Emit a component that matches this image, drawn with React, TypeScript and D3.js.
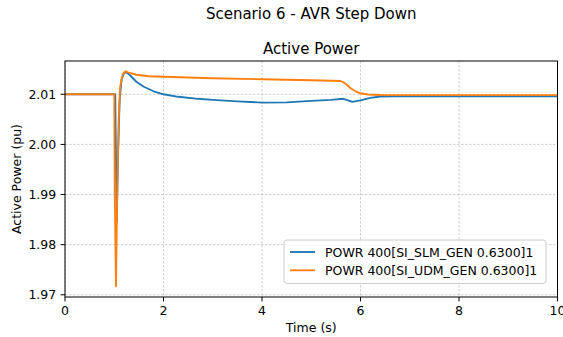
import React from "react";
import * as d3 from "d3";

const W = 563;
const H = 337;

const suptitle = "Scenario 6 - AVR Step Down";
const axTitle = "Active Power";
const xLabel = "Time (s)";
const yLabel = "Active Power (pu)";
const xTicks = [0, 2, 4, 6, 8, 10];
const yTicks = [1.97, 1.98, 1.99, 2.0, 2.01];
const seriesNames = ["POWR 400[SI_SLM_GEN 0.6300]1", "POWR 400[SI_UDM_GEN 0.6300]1"];
const colors = ["#1f77b4", "#ff7f0e"];

const slmT = [0, 1.0, 1.02, 1.05, 1.08, 1.11, 1.15, 1.2, 1.25, 1.32, 1.45, 1.6, 1.8, 2.0, 2.3, 2.7, 3.0, 3.5, 4.0, 4.5, 5.0, 5.4, 5.65, 5.75, 5.83, 6.0, 6.2, 6.4, 6.7, 10];
const slmV = [2.01, 2.01, 2.01, 1.9845, 1.999, 2.009, 2.013, 2.0143, 2.0144, 2.0138, 2.0125, 2.0115, 2.0106, 2.01, 2.0095, 2.0091, 2.0089, 2.0086, 2.00835, 2.0084, 2.0087, 2.0089, 2.0091, 2.0088, 2.00848, 2.0088, 2.0093, 2.00955, 2.0096, 2.0096];

const udmT = [0, 1.0, 1.01, 1.035, 1.06, 1.09, 1.12, 1.17, 1.23, 1.3, 1.45, 1.7, 2.0, 3.0, 4.0, 5.0, 5.6, 5.7, 5.8, 5.9, 6.0, 6.15, 6.4, 10];
const udmV = [2.01, 2.01, 1.99, 1.9717, 1.99, 2.005, 2.0115, 2.014, 2.0146, 2.0143, 2.0139, 2.0136, 2.0135, 2.0132, 2.013, 2.0128, 2.01265, 2.0121, 2.0112, 2.0106, 2.0102, 2.00995, 2.00985, 2.00983];

const margin = { left: 65, right: 5.5, top: 61, bottom: 40 };

export default function App() {
  const x = d3.scaleLinear().domain([0, 10]).range([margin.left, W - margin.right]);
  const y = d3.scaleLinear().domain([1.96956, 2.01664]).range([H - margin.bottom, margin.top]);
  const line = d3
    .line<[number, number]>()
    .x((d) => x(d[0]))
    .y((d) => y(d[1]));
  const series = [
    slmT.map((t, i) => [t, slmV[i]] as [number, number]),
    udmT.map((t, i) => [t, udmV[i]] as [number, number]),
  ];
  const x0 = x(0), x1 = x(10), y0 = y.range()[0], y1 = y.range()[1];
  const cx = (x0 + x1) / 2;
  const font = "DejaVu Sans, sans-serif";
  const lg = { x: 284, y: 240, w: 262, h: 43.5 };
  return (
    <svg width={W} height={H} style={{ position: "absolute", left: 0, top: 0 }} fontFamily={font}>
      <rect x={0} y={0} width={W} height={H} fill="#fff" />
      <text x={cx} y={19} textAnchor="middle" fontSize={15} fill="#000">{suptitle}</text>
      <text x={cx} y={53.5} textAnchor="middle" fontSize={15} fill="#000">{axTitle}</text>
      <defs>
        <clipPath id="clip">
          <rect x={x0} y={y1} width={x1 - x0} height={y0 - y1} />
        </clipPath>
      </defs>
      {xTicks.map((t) => (
        <line key={"gx" + t} x1={x(t)} x2={x(t)} y1={y1} y2={y0} stroke="#b0b0b0" strokeWidth={0.6} strokeDasharray="2.5,1.5" />
      ))}
      {yTicks.map((t) => (
        <line key={"gy" + t} x1={x0} x2={x1} y1={y(t)} y2={y(t)} stroke="#b0b0b0" strokeWidth={0.6} strokeDasharray="2.5,1.5" />
      ))}
      <g clipPath="url(#clip)">
        {series.map((s, i) => (
          <path key={i} d={line(s) || ""} fill="none" stroke={colors[i]} strokeWidth={1.85} strokeLinejoin="round" />
        ))}
      </g>
      <rect x={x0} y={y1} width={x1 - x0} height={y0 - y1} fill="none" stroke="#000" strokeWidth={1} />
      {xTicks.map((t) => (
        <g key={"xt" + t}>
          <line x1={x(t)} x2={x(t)} y1={y0} y2={y0 + 4.4} stroke="#000" strokeWidth={1} />
          <text x={x(t)} y={y0 + 18} textAnchor="middle" fontSize={12.5} fill="#000">{t}</text>
        </g>
      ))}
      {yTicks.map((t) => (
        <g key={"yt" + t}>
          <line x1={x0 - 4.4} x2={x0} y1={y(t)} y2={y(t)} stroke="#000" strokeWidth={1} />
          <text x={x0 - 8.75} y={y(t) + 4.5} textAnchor="end" fontSize={12.5} fill="#000">{t.toFixed(2)}</text>
        </g>
      ))}
      <text x={cx} y={332} textAnchor="middle" fontSize={12.5} fill="#000">{xLabel}</text>
      <text transform={`translate(20.5,${(y0 + y1) / 2}) rotate(-90)`} textAnchor="middle" fontSize={12.5} fill="#000">{yLabel}</text>
      <rect x={lg.x} y={lg.y} width={lg.w} height={lg.h} rx={3} fill="#fff" fillOpacity={0.8} stroke="#cccccc" strokeWidth={1} />
      {seriesNames.map((n, i) => (
        <g key={n}>
          <line x1={lg.x + 6} x2={lg.x + 31} y1={lg.y + 12 + i * 18.3} y2={lg.y + 12 + i * 18.3} stroke={colors[i]} strokeWidth={1.85} />
          <text x={lg.x + 41} y={lg.y + 16.5 + i * 18.3} fontSize={12.5} fill="#000">{n}</text>
        </g>
      ))}
    </svg>
  );
}
